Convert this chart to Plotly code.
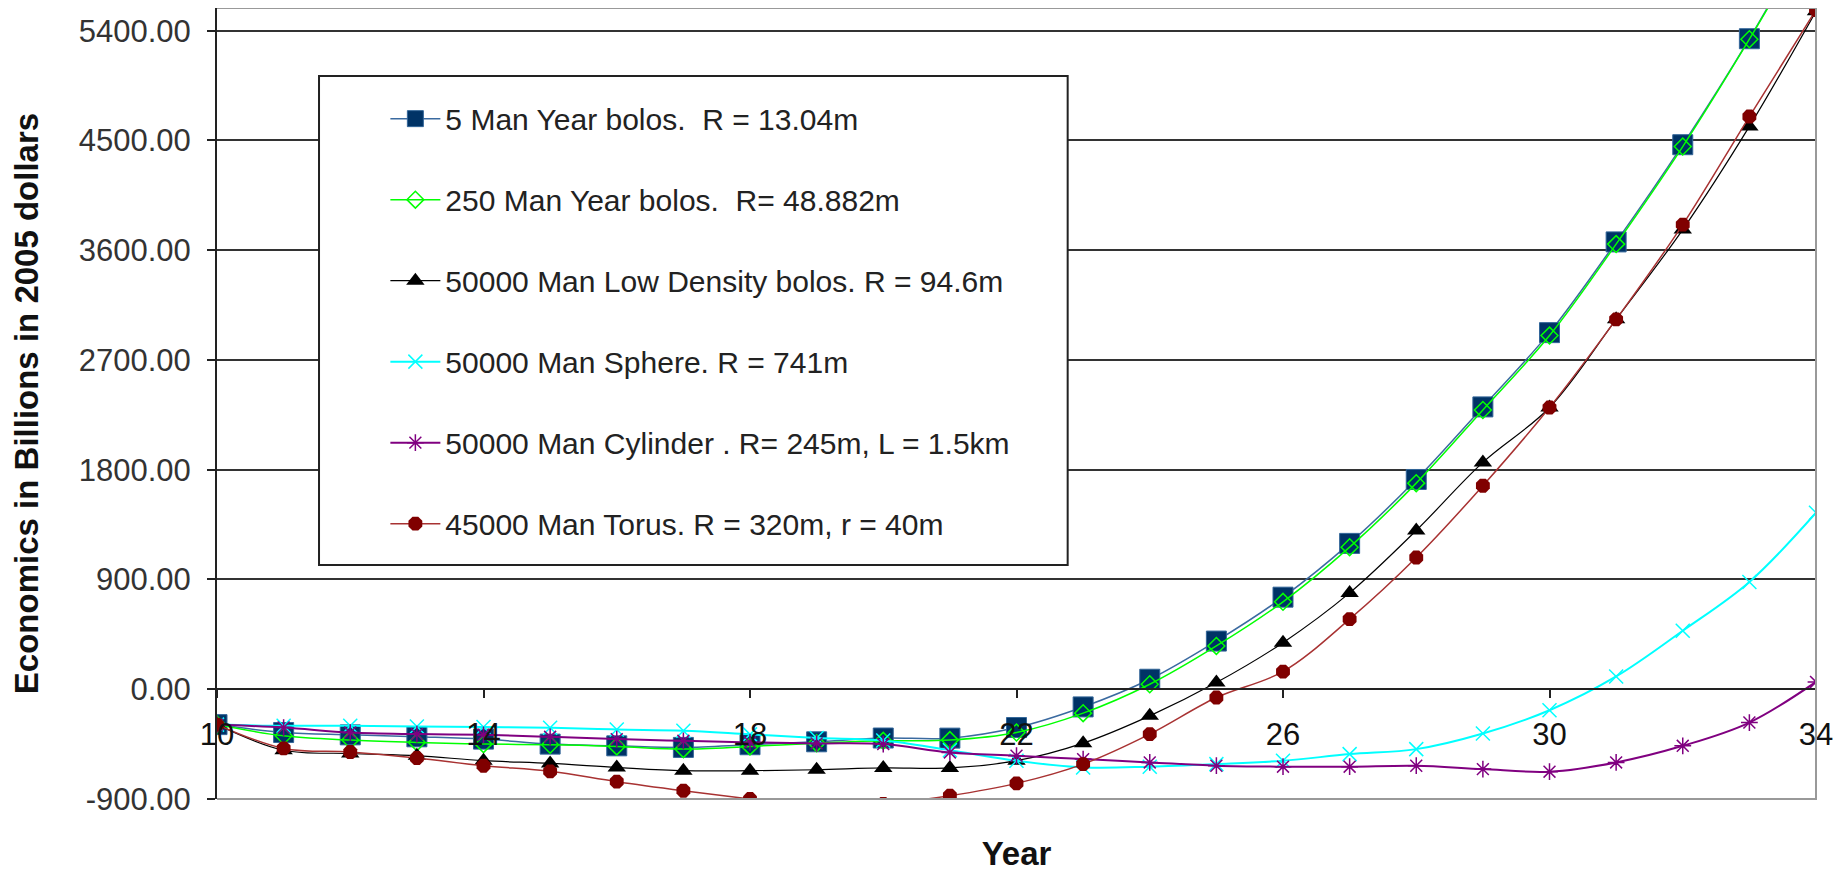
import plotly.graph_objects as go

# Years on the x axis
years = list(range(10, 35))

# Values in billions of 2005 dollars
bolo_5 = [-290, -355, -374, -390, -409, -450, -464, -477, -455, -431, -400, -401, -314,
          -145, 82, 395, 755, 1196, 1720, 2315, 2924, 3668, 4465, 5334, 6300]
bolo_250 = [-290, -382, -417, -436, -450, -455, -469, -491, -469, -442, -423, -417, -355,
            -196, 41, 355, 717, 1165, 1690, 2290, 2900, 3650, 4450, 5330, 6270]
bolo_50000 = [-290, -500, -527, -545, -586, -608, -641, -668, -668, -660, -645, -645, -586,
              -442, -218, 55, 382, 790, 1302, 1860, 2310, 3033, 3769, 4615, 5560]
sphere = [-290, -300, -300, -305, -310, -315, -330, -340, -370, -400, -420, -500, -586,
          -641, -635, -614, -586, -532, -491, -363, -172, 105, 480, 880, 1447]
cylinder = [-290, -314, -355, -368, -374, -390, -409, -423, -436, -444, -450, -518, -545,
            -573, -600, -627, -635, -635, -627, -655, -676, -600, -464, -273, 60]
torus = [-290, -485, -515, -564, -627, -673, -758, -832, -900, -965, -940, -873, -772,
         -614, -368, -68, 145, 575, 1080, 1669, 2310, 3033, 3810, 4696, 5570]

names = [
    "5 Man Year bolos.\u00a0 R = 13.04m",
    "250 Man Year bolos.\u00a0 R= 48.882m",
    "50000 Man Low Density bolos. R = 94.6m",
    "50000 Man Sphere. R = 741m",
    "50000 Man Cylinder . R= 245m, L = 1.5km",
    "45000 Man Torus. R = 320m, r = 40m",
]

y_ticks = [-900, 0, 900, 1800, 2700, 3600, 4500, 5400]
x_ticks = [10, 14, 18, 22, 26, 30, 34]

font_family = "Liberation Sans, Arial, sans-serif"

styles = [
    dict(line=dict(color="#3a6aa0", width=1.5),
         marker=dict(symbol="square", size=20, color="#003366", line=dict(color="#336699", width=1))),
    dict(line=dict(color="#00ff00", width=1.5),
         marker=dict(symbol="diamond-open", size=13, color="#00ff00", line=dict(width=1.5))),
    dict(line=dict(color="#000000", width=1.2),
         marker=dict(symbol="triangle-up", size=16, color="#000000")),
    dict(line=dict(color="#00ffff", width=2),
         marker=dict(symbol="x-thin-open", size=14, color="#00ffff", line=dict(color="#00ffff", width=1.5))),
    dict(line=dict(color="#800080", width=2),
         marker=dict(symbol="asterisk-open", size=14, color="#800080", line=dict(color="#800080", width=1.5))),
    dict(line=dict(color="#a83232", width=1.5),
         marker=dict(symbol="octagon", size=15, color="#800000")),
]

series = [bolo_5, bolo_250, bolo_50000, sphere, cylinder, torus]

fig = go.Figure()
for i, (name, vals, st) in enumerate(zip(names, series, styles)):
    fig.add_trace(go.Scatter(
        x=years, y=vals, name=name, mode="lines+markers",
        line=dict(shape="spline", smoothing=1, **st["line"]),
        marker=st["marker"],
        legendgroup=f"g{i}",
    ))

y_min, y_max = -900, 5586

# the page body adds an 8px offset, margins allow for it
fig.update_layout(
    width=1841, height=873,
    margin=dict(l=209, r=33, t=0, b=82),
    plot_bgcolor="white", paper_bgcolor="white",
    font=dict(family=font_family, color="#222"),
    showlegend=True,
    legend=dict(
        x=0.1053, y=0.893, xanchor="left", yanchor="top",
        bgcolor="rgba(0,0,0,0)", borderwidth=0,
        font=dict(size=30, color="#222"),
        tracegroupgap=39, itemwidth=50,
    ),
    xaxis=dict(
        range=[10, 34], tickvals=x_ticks,
        anchor="free", position=900 / (y_max - y_min),
        showline=True, linecolor="#222", linewidth=2,
        ticks="outside", ticklen=8, tickcolor="#222", tickwidth=2,
        ticklabelstandoff=10,
        tickfont=dict(size=31, color="#111"),
        showgrid=False, zeroline=False,
        title=dict(text="<b>Year</b>", font=dict(size=33, color="#111"), standoff=89),
    ),
    yaxis=dict(
        range=[y_min, y_max], tickvals=y_ticks,
        ticktext=[f"{v:.2f}" for v in y_ticks],
        showline=True, linecolor="#222", linewidth=2,
        ticks="outside", ticklen=8, tickcolor="#222", tickwidth=2,
        ticklabelstandoff=10,
        tickfont=dict(size=31, color="#333"),
        showgrid=True, gridcolor="#333", gridwidth=2,
        zeroline=False,
        title=dict(text="<b>Economics in Billions in 2005 dollars</b>",
                   font=dict(size=33, color="#111"), standoff=32),
    ),
    shapes=[
        # plot area border (top, right, bottom)
        dict(type="path", xref="paper", yref="paper",
             path="M 0,1 L 1,1 L 1,0 L 0,0", line=dict(color="#999", width=2), layer="above"),
        # legend box
        dict(type="rect", xref="paper", yref="paper",
             x0=0.0638, x1=0.532, y0=0.2958, y1=0.914,
             fillcolor="white", line=dict(color="#222", width=2), layer="above"),
    ],
)

fig.write_html("out.html")
